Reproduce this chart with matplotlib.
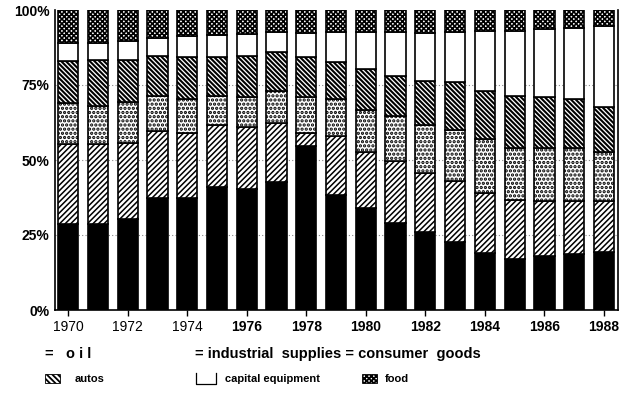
import matplotlib
matplotlib.use("Agg")
import matplotlib.pyplot as plt
from matplotlib.patches import Rectangle
from matplotlib.lines import Line2D
import numpy as np

plt.rcParams['font.family'] = ['Liberation Sans', 'DejaVu Sans']
plt.rcParams['hatch.linewidth'] = 1.0

years = list(range(1970, 1989))
oil = [28.7, 28.7, 30.5, 37.5, 37.2, 41.1, 40.3, 42.8, 54.7, 38.3, 33.9, 29.1, 26.1, 22.6, 18.9, 16.9, 18.1, 18.7, 19.2]
autos = [26.8, 26.6, 25.3, 22.3, 21.9, 20.6, 20.6, 19.4, 4.4, 19.7, 18.9, 20.7, 19.5, 20.5, 20.2, 19.8, 18.3, 17.5, 17.0]
industrial = [13.5, 12.7, 13.5, 11.5, 11.1, 9.6, 10.0, 10.9, 11.8, 12.2, 13.9, 15.0, 16.1, 16.9, 17.8, 17.4, 17.7, 17.7, 16.6]
consumer = [14.0, 15.5, 14.2, 13.4, 14.2, 13.1, 13.8, 13.0, 13.3, 12.6, 13.6, 13.3, 14.7, 16.0, 16.1, 17.3, 16.8, 16.3, 15.0]
capital = [6.0, 5.5, 6.3, 6.1, 6.9, 7.3, 7.2, 6.6, 8.0, 9.8, 12.3, 14.5, 15.8, 16.6, 20.1, 21.7, 22.8, 23.7, 26.9]
food = [11.0, 11.0, 10.2, 9.2, 8.7, 8.3, 8.1, 7.3, 7.8, 7.4, 7.4, 7.4, 7.8, 7.4, 6.9, 6.9, 6.3, 6.1, 5.3]

series = [
    ("oil", oil, dict(facecolor="black", hatch=None, hlw=1.0)),
    ("autos", autos, dict(facecolor="white", hatch="//////", hlw=1.1)),
    ("industrial supplies", industrial, dict(facecolor="white", hatch="....", hlw=1.6)),
    ("consumer goods", consumer, dict(facecolor="white", hatch="\\\\\\\\\\\\\\", hlw=1.5)),
    ("capital equipment", capital, dict(facecolor="white", hatch=None, hlw=1.0)),
    ("food", food, dict(facecolor="white", hatch="xxxxxxx", hlw=1.2)),
]

fig = plt.figure(figsize=(6.29, 4.03), dpi=100)
ax = fig.add_axes([55/629, 1 - 310/403, (618 - 55)/629, 300/403])

bottom = np.zeros(len(years))
for name, vals, st in series:
    vals = np.array(vals)
    with plt.rc_context({'hatch.linewidth': st["hlw"]}):
        ax.bar(years, vals, bottom=bottom, width=0.68, facecolor=st["facecolor"],
               hatch=st["hatch"], edgecolor="black", linewidth=1.2, zorder=3)
    bottom += vals

ax.set_xlim(1969.56, 1988.47)
ax.set_ylim(0, 100)
ax.set_yticks([0, 25, 50, 75, 100])
ax.set_yticklabels(["0%", "25%", "50%", "75%", "100%"], fontweight="bold", fontsize=10)
ax.tick_params(axis="y", length=0, pad=4)
ax.set_xticks(years[::2])
ax.set_xticklabels([str(y) for y in years[::2]], fontsize=10)
for lab, y in zip(ax.get_xticklabels(), years[::2]):
    if y >= 1976:
        lab.set_fontweight("bold")
ax.tick_params(axis="x", length=4, width=1, pad=3, direction="out")
for y in [25, 50, 75]:
    ax.axhline(y, color="#888888", linestyle=(0, (1, 2)), linewidth=0.8, zorder=1)
ax.spines["top"].set_visible(False)
for s in ["left", "bottom", "right"]:
    ax.spines[s].set_linewidth(1.2)

# legend drawn manually
fs1 = 10.5
fig.text(45/629, 1 - 354/403, "=   o i l", fontsize=fs1, fontweight="bold", va="center", ha="left")
fig.text(195/629, 1 - 354/403, "= industrial  supplies = consumer  goods", fontsize=fs1,
         fontweight="bold", va="center", ha="left")
fs2 = 8
fig.text(75/629, 1 - 379/403, "autos", fontsize=fs2, fontweight="bold", va="center", ha="left")
fig.text(225/629, 1 - 379/403, "capital equipment", fontsize=fs2, fontweight="bold", va="center", ha="left")
fig.text(385/629, 1 - 379/403, "food", fontsize=fs2, fontweight="bold", va="center", ha="left")

with plt.rc_context({'hatch.linewidth': 1.3}):
    r1 = Rectangle((45/629, 1 - 383/403), 15/629, 9/403, transform=fig.transFigure,
                   facecolor="white", edgecolor="black", hatch="\\\\\\\\\\\\", linewidth=0.6)
    r2 = Rectangle((362/629, 1 - 383/403), 15/629, 9/403, transform=fig.transFigure,
                   facecolor="white", edgecolor="black", hatch="xxxxxxx", linewidth=0.6)
fig.patches.append(r1)
fig.patches.append(r2)
fig.lines.append(Line2D([196/629, 196/629, 216/629, 216/629],
                        [1 - 373/403, 1 - 384/403, 1 - 384/403, 1 - 373/403],
                        transform=fig.transFigure, color="black", linewidth=0.9))

fig.savefig("out.png", dpi=100)
